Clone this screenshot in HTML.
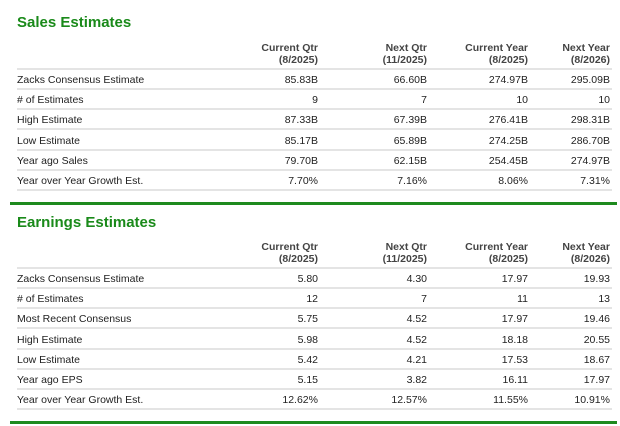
<!DOCTYPE html>
<html><head><meta charset="utf-8">
<style>
body{margin:0;width:620px;height:426px;background:#fff;font-family:"Liberation Sans",Arial,sans-serif;position:relative;overflow:hidden;color:#222}
.t{position:absolute;left:17px;font-weight:bold;font-size:15px;color:#1a8a1a}
.g{position:absolute;left:10px;width:607px;height:3px;background:#1e8a1e}
.h{position:absolute;font-size:10.5px;font-weight:bold;color:#444;text-align:right;line-height:12px}
.r{position:absolute;left:17px;width:595px;height:20px;font-size:10.5px;line-height:20px;border-bottom:2px solid #e4e4e4;box-sizing:border-box}
.r span{position:absolute;text-align:right}
.r .l{left:0;text-align:left}
</style></head><body>
<div class="t" style="top:14px">Sales Estimates</div>
<div id="s"></div>
<div class="g" style="top:202px"></div>
<div class="t" style="top:214px">Earnings Estimates</div>
<div id="e"></div>
<div class="g" style="top:421px"></div>
<script>
const heads=[["Current Qtr","(8/2025)"],["Next Qtr","(11/2025)"],["Current Year","(8/2025)"],["Next Year","(8/2026)"]];
const rights=[318,427,528,610];
const salesRows=[["Zacks Consensus Estimate","85.83B","66.60B","274.97B","295.09B"],["# of Estimates","9","7","10","10"],["High Estimate","87.33B","67.39B","276.41B","298.31B"],["Low Estimate","85.17B","65.89B","274.25B","286.70B"],["Year ago Sales","79.70B","62.15B","254.45B","274.97B"],["Year over Year Growth Est.","7.70%","7.16%","8.06%","7.31%"]];
const earnRows=[["Zacks Consensus Estimate","5.80","4.30","17.97","19.93"],["# of Estimates","12","7","11","13"],["Most Recent Consensus","5.75","4.52","17.97","19.46"],["High Estimate","5.98","4.52","18.18","20.55"],["Low Estimate","5.42","4.21","17.53","18.67"],["Year ago EPS","5.15","3.82","16.11","17.97"],["Year over Year Growth Est.","12.62%","12.57%","11.55%","10.91%"]];
function build(id,rows,hTop,rTop,pre){
  const c=document.getElementById(id);
  heads.forEach((h,i)=>{const d=document.createElement('div');d.className='h';
    
    
    d.style.top=hTop+'px';d.style.right=(620-rights[i])+'px';d.innerHTML=h[0]+'<br>'+h[1];c.appendChild(d);});
  const line=document.createElement('div');line.className='r';line.style.top=(rTop-2)+'px';line.style.height='2px';line.style.borderBottom='2px solid #e4e4e4';
  
  
  c.appendChild(line);
  rows.forEach((r,j)=>{const d=document.createElement('div');d.className='r';d.style.top=(rTop+j*20.2)+'px';
    
    
    r.forEach((v,i)=>{const s=document.createElement('span');
      if(i==0)s.className='l';else s.style.right=(612-rights[i-1])+'px';
      
      
      s.textContent=v;d.appendChild(s);});
    c.appendChild(d);});
}
build('s',salesRows,42,70,'sales');
build('e',earnRows,241,269,'earnings');
</script>
</body></html>
